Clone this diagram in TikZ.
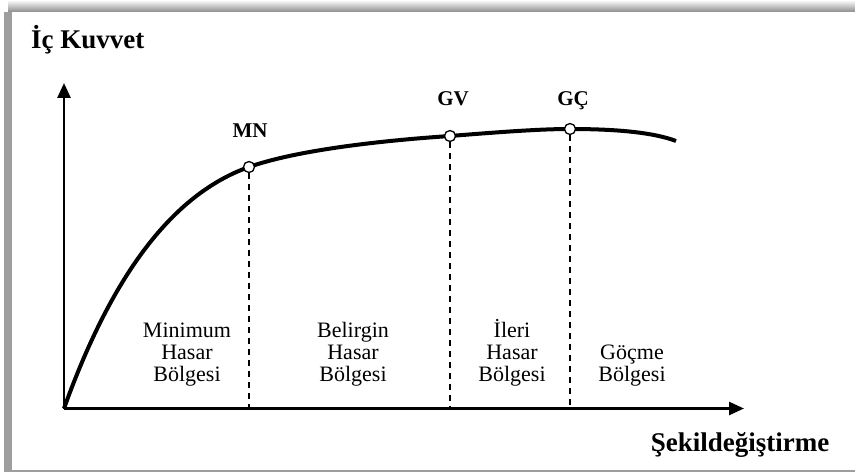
\documentclass[tikz,border=0pt]{standalone}
\usepackage{fontspec}
\setmainfont{Liberation Serif}
\usetikzlibrary{arrows.meta}

\begin{document}
\begin{tikzpicture}[x=1pt,y=-1pt,>={Triangle[length=15pt,width=13pt]},
    axis/.style={->,line width=2.6pt},
    curve/.style={line width=4pt},
    point/.style={circle,draw,fill=white,line width=1.3pt,minimum size=11pt,inner sep=0pt},
    limit/.style={line width=1.3pt,dash pattern=on 6pt off 5pt},
    tag/.style={font=\fontsize{21}{21}\selectfont\bfseries,inner sep=0pt,anchor=base},
    title/.style={font=\fontsize{27}{27}\selectfont\bfseries,inner sep=0pt},
    zone/.style={font=\fontsize{22}{22}\selectfont,align=center,inner sep=0pt,anchor=south}]

                \useasboundingbox (0,0) rectangle (855,473);

                % frame with shadow
                \fill[black!38] (4,12) rectangle (12,471.5);
                \fill[black!38] (4,470) rectangle (855,471.5);
                \shade[top color=white,bottom color=black!45] (8,0) rectangle (855,12);
                \fill[white] (12,12) rectangle (855,470);

                \coordinate (o) at (64,408.5);
                \coordinate (ytop) at (64,83);
                \coordinate (xend) at (744,408.5);
                \coordinate (mn) at (249,167);
                \coordinate (gv) at (450,136);
                \coordinate (gc) at (570,129);
                \coordinate (end) at (676,141);

                \draw[axis] (o) -- (ytop);
                \draw[axis] (o) -- (xend);

                \draw[curve] (o) .. controls (110,280) and (170,195) .. (mn)
                             .. controls (300,149) and (390,140) .. (gv)
                             .. controls (500,132) and (540,129) .. (gc)
                             .. controls (620,129) and (655,133) .. (end);

                \node[point] (p1) at (mn) {};
                \node[point] (p2) at (gv) {};
                \node[point] (p3) at (gc) {};

                \draw[limit] (p1) -- (p1 |- o);
                \draw[limit] (p2) -- (p2 |- o);
                \draw[limit] (p3) -- (p3 |- o);

                \node[tag] (mnlabel) at (250,138) {MN};
                \node[tag] (gvlabel) at (453,106) {GV};
                \node[tag] (gclabel) at (573,106) {GÇ};

                \node[zone] (zone1) at (187,386) {Minimum\\Hasar\\Bölgesi};
                \node[zone] (zone2) at (353,386) {Belirgin\\Hasar\\Bölgesi};
                \node[zone] (zone3) at (512,386) {İleri\\Hasar\\Bölgesi};
                \node[zone] (zone4) at (632,386) {Göçme\\Bölgesi};

                \node[title,anchor=base west] (ylabel) at (31,49) {İç Kuvvet};
                \node[title,anchor=base] (xlabel) at (740,451) {Şekildeğiştirme};

            \end{tikzpicture}
\end{document}
